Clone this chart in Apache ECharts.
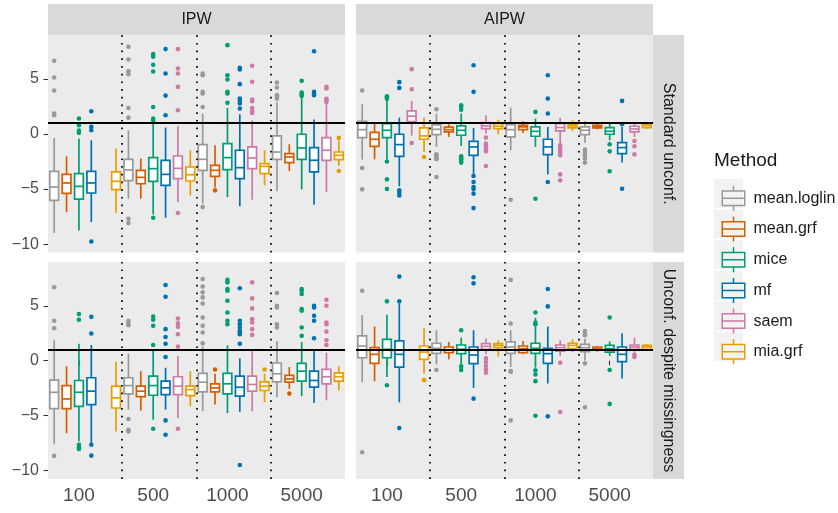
<!DOCTYPE html>
<html><head><meta charset="utf-8">
<script src="https://cdn.jsdelivr.net/npm/echarts@6/dist/echarts.min.js"></script>
<style>html,body{margin:0;padding:0;background:#fff}#c{width:838px;height:513px}</style>
</head><body><div id="c"></div>
<script>
// ---------- data ----------
const methods = ['mean.loglin', 'mean.grf', 'mice', 'mf', 'saem', 'mia.grf'];
const methodColors = ['#999999', '#D55E00', '#009E73', '#0072B2', '#CC79A7', '#E69F00'];
const sampleSizes = ['100', '500', '1000', '5000'];
const estimators = ['IPW', 'AIPW'];
const scenarios = ['Standard unconf.', 'Unconf. despite missingness'];
const yTicks = [-10, -5, 0, 5];
const refValue = 1;

// boxes: per method, per sample size: [lower whisker, Q1, median, Q3, upper whisker]
const ipwStdBoxes = [
  [[-8.97,-6.03,-4.82,-3.39,-0.36],[-5.88,-4.24,-3.27,-2.30,0.33],[-6.33,-3.30,-2.30,-0.97,1.85],[-5.21,-2.30,-1.64,-0.18,2.90]],
  [[-7.09,-5.39,-4.45,-3.67,-2.03],[-5.88,-4.52,-3.94,-3.30,-2.24],[-4.85,-3.85,-3.30,-2.85,-1.03],[-3.36,-2.60,-2.09,-1.79,-0.94]],
  [[-8.76,-5.91,-4.76,-3.61,-0.42],[-7.30,-4.30,-3.15,-2.15,0.90],[-5.73,-3.24,-2.15,-0.88,2.36],[-5.03,-2.30,-1.27,-0.03,3.30]],
  [[-8.00,-5.36,-4.45,-3.39,-0.58],[-7.60,-4.67,-3.67,-2.39,0.58],[-6.55,-4.06,-3.06,-1.48,1.79],[-6.42,-3.45,-2.39,-1.24,1.30]],
  [null,[-6.18,-4.06,-3.12,-2.00,0.70],[-5.97,-3.15,-2.18,-1.18,1.24],[-5.27,-2.39,-1.48,-0.33,2.70]],
  [[-7.18,-5.06,-4.30,-3.45,-1.33],[-5.58,-4.27,-3.70,-3.00,-1.48],[-4.67,-3.60,-2.94,-2.70,-1.48],[-2.90,-2.33,-1.94,-1.64,-0.60]]
];
const ipwStdOutliers = [
  [[6.64,5.12,3.94,1.85,1.70],[7.91,6.76,5.70,5.42,2.36,1.48,-7.70,-8.09],[5.48,5.33,3.82,3.67,2.45,-6.64],[4.67,4.21,3.52,3.36,3.20]],
  [[],[],[-5.12],[]],
  [[1.40,0.80,0.30,0.10],[7.24,7.00,6.27,5.67,2.45,1.39,1.20,-7.60],[8.06,5.33,4.94,3.82,3.67,2.82],[4.82,3.76,3.60,3.45]],
  [[2.06,0.64,0.33,-9.76],[7.70,5.48,3.48,1.70],[6.00,5.85,4.52,3.21,3.00,2.76,2.30],[7.50,3.82,3.67,3.52]],
  [[],[7.70,5.94,5.48,4.27,2.15,-7.18],[6.18,4.73,3.12,2.97,2.36,2.09,1.91],[4.27,4.12,3.20,3.06,2.90]],
  [[],[],[],[-0.36,-3.36]]
];
const aipwStdBoxes = [
  [[-2.33,-0.33,0.39,1.15,2.70],[-1.18,-0.06,0.42,0.82,1.85],[-1.48,-0.27,0.39,0.85,2.39],[-0.82,-0.06,0.33,0.64,1.15]],
  [[-2.30,-1.12,-0.48,0.15,1.09],[-0.27,0.18,0.39,0.61,0.88],[0.09,0.39,0.64,0.79,1.15],[0.42,0.55,0.67,0.79,0.94]],
  [[-2.30,-0.33,0.33,0.94,3.10],[-1.09,-0.12,0.33,0.73,1.85],[-1.18,-0.21,0.24,0.64,1.39],[-0.58,-0.03,0.24,0.58,1.09]],
  [[-4.76,-2.03,-0.97,-0.03,1.48],[-3.76,-1.94,-1.18,-0.67,0.55],[-3.67,-1.88,-1.18,-0.48,0.64],[-2.60,-1.79,-1.24,-0.79,0.64]],
  [[-0.15,1.12,1.61,2.09,3.00],[0.03,0.48,0.73,1.03,1.70],[-0.88,0.27,0.58,0.94,1.45],[-0.27,0.18,0.45,0.70,0.94]],
  [[-1.64,-0.48,-0.18,0.55,1.48],[-0.03,0.48,0.70,0.94,1.30],[0.24,0.55,0.73,0.88,1.24],[0.48,0.58,0.76,0.91,1.00]]
];
const aipwStdOutliers = [
  [[3.94,-3.09,-5.03],[2.24,-1.85,-2.03,-2.18,-2.30,-3.91],[-5.97],[-1.42,-1.64,-1.94,-2.24,-2.60]],
  [[],[],[],[]],
  [[3.42,3.30,3.20,-2.50,-4.12,-5.00],[2.60,2.45,2.20,-2.03,-2.18,-2.30,-2.45,-2.60],[2.00,-5.88],[-0.94,-1.58,-3.39]],
  [[4.70,4.18,-5.12,-5.33,-5.58],[6.24,3.82,-3.82,-4.36,-4.82,-5.00,-5.42,-6.73],[5.33,3.21,1.85,-4.36],[3.00,0.88,-4.97]],
  [[5.88,4.06,-0.82],[-0.33,-0.88,-1.03,-1.33,-1.58,-2.91],[-1.03,-1.27,-1.48,-1.70,-1.94,-3.67,-4.21],[-0.64,-1.12,-1.85]],
  [[-2.09],[],[],[]]
];
const ipwMissBoxes = [
  [[-7.59,-4.36,-2.87,-1.77,1.86],[-4.45,-3.02,-2.26,-1.55,0.64],[-4.60,-2.84,-1.95,-1.16,1.30],[-3.32,-1.92,-1.19,-0.21,1.80]],
  [[-6.59,-4.36,-3.48,-2.26,-0.49],[-4.54,-3.26,-2.77,-2.32,-0.95],[-3.99,-2.84,-2.47,-2.10,-1.19],[-2.56,-1.95,-1.65,-1.34,-0.58]],
  [[-7.35,-4.15,-2.87,-1.80,1.55],[-5.37,-3.14,-2.26,-1.40,1.04],[-4.76,-3.02,-2.10,-1.16,1.40],[-3.23,-1.86,-0.95,-0.24,1.70]],
  [[-7.50,-3.99,-2.77,-1.55,1.43],[-4.45,-3.08,-2.47,-1.86,-0.64],[-4.66,-3.23,-2.41,-1.40,0.21],[-3.84,-2.41,-1.80,-0.95,0.88]],
  [null,[-5.21,-3.08,-2.32,-1.46,0.43],[-4.60,-2.77,-2.16,-1.40,0.88],[-3.60,-2.10,-1.46,-0.79,0.73]],
  [[-6.43,-4.30,-3.38,-2.32,-0.10],[-4.15,-3.17,-2.62,-2.32,-0.95],[-3.78,-2.71,-2.32,-1.92,-1.20],[-2.71,-1.86,-1.46,-1.10,-0.49]]
];
const ipwMissOutliers = [
  [[6.68,3.63,2.96,-8.66],[3.63,3.38,3.23,-5.30,-6.28,-6.43],[7.44,6.74,6.22,5.76,5.21,3.93,3.17,2.56,1.58],[6.16,5.00,4.85,3.32,3.02]],
  [[],[],[-0.80],[-2.99]],
  [[4.24,3.72,-7.65,-7.87,-8.02],[4.02,3.72,3.17,1.43,-6.19],[7.35,7.13,6.52,6.37,5.45,4.39,3.63,3.32],[6.52,6.37,6.07,4.70,4.54,3.02,2.26]],
  [[3.99,2.47,-7.65,-8.63],[6.89,5.82,2.87,2.16,1.55,0.34,-5.43,-6.74],[6.59,3.63,3.32,3.02,2.71,2.56,2.41,1.55,-9.48],[5.00,4.85,4.09,3.63,2.04]],
  [[],[3.84,3.41,3.08,2.41,1.28,-6.19],[7.13,5.67,4.76,3.78,3.47,2.87,2.35],[5.55,5.00,3.47,3.32,2.65,1.86,1.43]],
  [[],[],[-0.80],[]]
];
const aipwMissBoxes = [
  [[-1.95,0.27,1.34,2.26,4.15],[-0.34,0.67,1.13,1.59,2.77],[-0.58,0.67,1.25,1.71,2.77],[0.03,0.82,1.19,1.49,2.00]],
  [[-1.86,-0.24,0.58,1.19,3.11],[0.12,0.73,0.98,1.25,1.71],[0.58,0.73,1.10,1.34,1.80],[0.82,0.95,1.10,1.25,1.34]],
  [[-1.49,0.27,1.04,1.95,4.18],[-0.30,0.64,1.04,1.43,2.10],[-0.64,0.67,1.13,1.59,3.90],[0.43,0.79,1.10,1.40,1.74]],
  [[-3.78,-0.58,0.58,1.80,5.20],[-2.47,-0.27,0.52,1.25,2.77],[-2.07,-0.24,0.64,1.13,3.11],[-1.62,-0.09,0.58,1.25,2.50]],
  [null,[0.58,1.04,1.31,1.55,2.01],[0.43,0.88,1.19,1.43,1.86],[0.67,1.04,1.25,1.43,2.10]],
  [[-1.19,0.12,0.79,1.34,2.96],[0.37,1.19,1.40,1.55,1.86],[0.79,1.10,1.40,1.59,1.95],[0.88,1.04,1.25,1.40,1.49]]
];
const aipwMissOutliers = [
  [[6.37,-8.32],[-0.85],[7.35,3.38,-0.95,-1.00,-5.43],[2.71,2.50,2.32,-0.24,-4.24]],
  [[],[],[],[]],
  [[5.40,-2.23],[2.77,-0.50,-0.85],[4.39,3.48,3.32,-0.88,-1.25,-1.86,-5.00],[3.93,-0.85,-3.93]],
  [[5.40,7.65,-6.13],[7.59,7.04,-3.45],[6.52,4.94,-5.06],[]],
  [[],[0.21,-0.12,-0.49,-0.79,-1.10],[-0.18,-4.66],[0.52,0.34]],
  [[-1.77],[],[],[]]
];

// ---------- layout ----------
const panels = [
  {boxes: ipwStdBoxes,  outliers: ipwStdOutliers,  left: 48,  top: 35,  height: 217.5, col: 0, row: 0},
  {boxes: aipwStdBoxes, outliers: aipwStdOutliers, left: 356, top: 35,  height: 217.5, col: 1, row: 0},
  {boxes: ipwMissBoxes, outliers: ipwMissOutliers, left: 48,  top: 262, height: 217,   col: 0, row: 1},
  {boxes: aipwMissBoxes,outliers: aipwMissOutliers,left: 356, top: 262, height: 217,   col: 1, row: 1}
];
const PW = 297;
const SLOT = 1 / 6;          // dodge slot width in x units
const BOX_W = 0.118;         // box width in x units
const LW = 1.7;
const FONT = "'Liberation Sans', Arial, Helvetica, sans-serif";
const xMin = 1 - 2.5 * SLOT, xMax = sampleSizes.length + 3.5 * SLOT;
const slotX = (gi, mi) => gi + 1 + (mi - 2) * SLOT;

const grids = [], xAxes = [], yAxes = [], series = [];
panels.forEach((p, pi) => {
  grids.push({left: p.left, top: p.top, width: PW, height: p.height, show: true,
    backgroundColor: '#EBEBEB', borderWidth: 0, containLabel: false, outerBoundsMode: 'none'});
  const bottom = p.row === 1, leftCol = p.col === 0;
  xAxes.push({type: 'value', gridIndex: pi, min: xMin, max: xMax,
    axisLine: {show: false}, splitLine: {show: false},
    axisTick: {show: bottom, customValues: [1, 2, 3, 4], length: 4.5, lineStyle: {color: '#333333', width: 1.1}},
    axisLabel: {show: bottom, customValues: [1, 2, 3, 4], margin: 7, fontSize: 19, color: '#4D4D4D', fontFamily: FONT,
      formatter: v => sampleSizes[Math.round(v) - 1]}});
  yAxes.push({type: 'value', gridIndex: pi, min: -10.76, max: 8.98,
    axisLine: {show: false}, splitLine: {show: false},
    axisTick: {show: leftCol, customValues: yTicks, length: 4.5, lineStyle: {color: '#333333', width: 1.1}},
    axisLabel: {show: leftCol, customValues: yTicks, margin: 9, fontSize: 16, color: '#4D4D4D', fontFamily: FONT,
      formatter: v => String(v).replace('-', '\u2212')}});

  methods.forEach((m, mi) => {
    const col = methodColors[mi];
    const data = [];
    p.boxes[mi].forEach((b, gi) => { if (b) data.push([slotX(gi, mi)].concat(b)); });
    series.push({
      type: 'custom', name: m, xAxisIndex: pi, yAxisIndex: pi, z: 2, silent: true,
      encode: {x: 0, y: [1, 2, 3, 4, 5]},
      itemStyle: {color: col},
      data: data,
      renderItem: function (params, api) {
        const x = api.value(0);
        const pts = [1, 2, 3, 4, 5].map(i => api.coord([x, api.value(i)]));
        const cx = pts[0][0];
        const w = api.size([BOX_W, 0])[0];
        const st = {stroke: col, lineWidth: LW, fill: null};
        return {type: 'group', children: [
          {type: 'line', shape: {x1: cx, y1: pts[4][1], x2: cx, y2: pts[3][1]}, style: st},
          {type: 'line', shape: {x1: cx, y1: pts[1][1], x2: cx, y2: pts[0][1]}, style: st},
          {type: 'rect', shape: {x: cx - w / 2, y: pts[3][1], width: w, height: pts[1][1] - pts[3][1]},
            style: {fill: '#FFFFFF', stroke: col, lineWidth: LW}},
          {type: 'line', shape: {x1: cx - w / 2, y1: pts[2][1], x2: cx + w / 2, y2: pts[2][1]}, style: st}
        ]};
      }
    });
    const od = [];
    p.outliers[mi].forEach((arr, gi) => arr.forEach(v => od.push([slotX(gi, mi), v])));
    series.push({type: 'scatter', name: m, xAxisIndex: pi, yAxisIndex: pi, z: 3, silent: true,
      symbol: 'circle', symbolSize: 4.6, itemStyle: {color: col, opacity: 1}, data: od});
  });

  const vlines = sampleSizes.slice(0, -1).map((s, gi) => ({xAxis: gi + 1 + 3.5 * SLOT,
    lineStyle: {color: '#000', width: 1.7, type: [1.7, 6], cap: 'butt'}}));
  series.push({type: 'scatter', name: 'reference', xAxisIndex: pi, yAxisIndex: pi, data: [], z: 4, silent: true,
    markLine: {silent: true, symbol: ['none', 'none'], label: {show: false}, emphasis: {disabled: true}, animation: false,
      data: vlines.concat([{yAxis: refValue, lineStyle: {color: '#000', width: 2, type: 'solid'}}])}});
});

// strips, legend key backgrounds, legend title
const graphics = [];
estimators.forEach((e, i) => {
  const left = panels[i].left;
  graphics.push({type: 'rect', left: left, top: 4, z: 0, shape: {width: PW, height: 31}, style: {fill: '#D9D9D9'}});
  graphics.push({type: 'text', x: left + PW / 2, y: 20, z: 1,
    style: {text: e, font: '16px ' + FONT, fill: '#1A1A1A', align: 'center', verticalAlign: 'middle'}});
});
scenarios.forEach((s, i) => {
  const p = panels[i * 2 + 1];
  graphics.push({type: 'rect', left: 653, top: p.top, z: 0, shape: {width: 31, height: p.height}, style: {fill: '#D9D9D9'}});
  graphics.push({type: 'text', x: 668.5, y: p.top + p.height / 2, rotation: -Math.PI / 2, z: 1,
    style: {text: s, font: '16px ' + FONT, fill: '#1A1A1A', align: 'center', verticalAlign: 'middle'}});
});
const legendTop = 180.8, legendStep = 30.7;
methods.forEach((m, i) => {
  graphics.push({type: 'rect', left: 714, top: legendTop + 12.5 - 14.5 + i * legendStep, z: 0,
    shape: {width: 29, height: 29}, style: {fill: '#F2F2F2'}});
});
graphics.push({type: 'text', x: 714, y: 161, z: 1,
  style: {text: 'Method', font: '19px ' + FONT, fill: '#1A1A1A', align: 'left', verticalAlign: 'middle'}});

const glyph = 'path://M11.25 0H12.75V4.5H11.25Z M0 4.5H24V6H0Z M0 19H24V20.5H0Z M0 4.5H1.5V20.5H0Z M22.5 4.5H24V20.5H22.5Z M0 11.75H24V13.25H0Z M11.25 20.5H12.75V25H11.25Z';

const chart = echarts.init(document.getElementById('c'), null, {renderer: 'canvas'});
chart.setOption({
  animation: false,
  backgroundColor: '#FFFFFF',
  textStyle: {fontFamily: FONT},
  grid: grids, xAxis: xAxes, yAxis: yAxes, series: series,
  graphic: {elements: graphics},
  legend: {orient: 'vertical', left: 716.5, top: legendTop, z: 5, selectedMode: false,
    itemWidth: 24, itemHeight: 25, itemGap: legendStep - 25, icon: glyph,
    textStyle: {fontSize: 16, color: '#1A1A1A', fontFamily: FONT, padding: [0, 0, 0, 3]},
    data: methods.map((m, i) => ({name: m, icon: glyph,
      itemStyle: {color: methodColors[i], borderWidth: 0, opacity: 1}}))}
});
</script></body></html>
